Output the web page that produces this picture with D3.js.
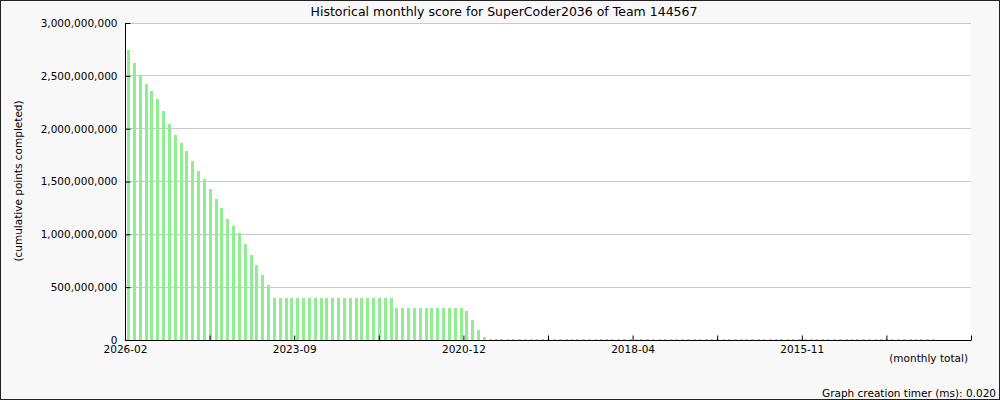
<!DOCTYPE html>
<html>
<head>
<meta charset="utf-8">
<script src="https://cdn.jsdelivr.net/npm/d3@7"></script>
<style>
  body { margin: 0; background: #fff; }
  text { font-family: "DejaVu Sans", sans-serif; }
</style>
</head>
<body>
<div id="chart"></div>
<script>
"use strict";
(function(){
  // monthly cumulative score, newest month first (millions of points)
  const scores = [
    2745, 2626, 2512, 2427, 2360, 2281, 2170, 2047, 1942, 1866,
    1791, 1696, 1601, 1525, 1430, 1335, 1249, 1145, 1079, 1012,
    908, 803, 708, 613, 518,
    400, 400, 400, 400, 400, 400, 400, 400, 400, 400,
    400, 400, 400, 400, 400, 400, 400, 400, 400, 400, 400,
    305, 305, 305, 305, 305, 305, 305, 305, 305, 305, 305, 305,
    275, 193, 97, 30,
    1, 1, 1, 1, 1, 1, 1, 1, 1, 1, 1, 1, 1, 1, 1, 1, 1, 1, 1, 1,
    1, 1, 1, 1, 1, 1, 1, 1, 1, 1, 1, 1, 1, 1, 1, 1, 1, 1, 1, 1,
    1, 1, 1, 1, 1, 1, 1, 1, 1, 1, 1, 1, 1, 1, 1, 1, 1, 1, 1, 1,
    1, 1, 1, 1, 1, 1, 1, 1, 1, 1, 1, 1, 1, 1, 1, 1, 1
  ]
  const slots = 145
  const xTickLabels = ['2026-02', '', '2023-09', '', '2020-12', '', '2018-04', '', '2015-11', '', '']
  const yTicks = [0, 500, 1000, 1500, 2000, 2500, 3000]

  const m = { width: 1000, height: 400, left: 125, right: 971, top: 23, bottom: 340 }

  const svg = d3.select('#chart').append('svg')
      .attr('width', m.width)
      .attr('height', m.height)

  // page background + border
  svg.append('rect')
      .attr('x', 0.5).attr('y', 0.5)
      .attr('width', m.width - 1).attr('height', m.height - 1)
      .attr('fill', '#f8f8f8')
      .attr('stroke', '#222')

  // plot area
  svg.append('rect')
      .attr('x', m.left).attr('y', m.top)
      .attr('width', m.right - m.left).attr('height', m.bottom - m.top)
      .attr('fill', '#fff')

  const x = d3.scaleLinear().domain([0, slots]).range([m.left, m.right])
  const y = d3.scaleLinear().domain([0, 3000]).range([m.bottom, m.top])

  // gridlines
  svg.append('g')
    .selectAll('line')
    .data(yTicks.filter(d => d > 0))
    .enter()
    .append('line')
      .attr('x1', m.left).attr('x2', m.right)
      .attr('y1', d => Math.floor(y(d)) + 0.5)
      .attr('y2', d => Math.floor(y(d)) + 0.5)
      .attr('stroke', '#c8c8c8')

  // bars
  svg.append('g')
    .selectAll('rect')
    .data(scores)
    .enter()
    .append('rect')
      .attr('x', (d, i) => Math.round(x(i) + 2))
      .attr('width', 3)
      .attr('y', d => Math.round(Math.min(y(d), m.bottom - 1)))
      .attr('height', d => m.bottom - Math.round(Math.min(y(d), m.bottom - 1)))
      .attr('fill', '#90ee90')
      .attr('shape-rendering', 'crispEdges')

  // y axis
  const yAxis = d3.axisLeft(y)
      .tickValues(yTicks)
      .tickSize(-5)
      .tickPadding(8)
      .tickFormat(d => d3.format(',')(d * 1e6))
  const gy = svg.append('g')
      .attr('transform', 'translate(' + (m.left + 0.5) + ',0)')
      .call(yAxis)
  gy.select('.domain').attr('d', 'M0,' + m.top + 'V' + (m.bottom + 1)).attr('stroke', '#000')
  gy.selectAll('.tick line').attr('stroke', '#000')
  gy.selectAll('text').attr('font-size', '10.5px').attr('fill', '#000')
    .attr('font-family', '"DejaVu Sans", sans-serif')

  // x axis
  const xAxis = d3.axisBottom(x)
      .tickValues(d3.range(0, 11).map(k => k * slots / 10))
      .tickSize(-5)
      .tickPadding(5)
      .tickFormat((d, i) => xTickLabels[i])
  const gx = svg.append('g')
      .attr('transform', 'translate(0,' + (m.bottom + 0.5) + ')')
      .call(xAxis)
  gx.select('.domain').attr('d', 'M' + m.left + ',0H' + m.right).attr('stroke', '#000')
  gx.selectAll('.tick line').attr('stroke', '#000')
  gx.selectAll('text').attr('font-size', '10.5px').attr('fill', '#000')
    .attr('font-family', '"DejaVu Sans", sans-serif')

  // titles
  svg.append('text')
      .attr('x', 504).attr('y', 16)
      .attr('text-anchor', 'middle')
      .attr('font-size', '12.5px')
      .text('Historical monthly score for SuperCoder2036 of Team 144567')
  svg.append('text')
      .attr('transform', 'translate(22,181)rotate(-90)')
      .attr('text-anchor', 'middle')
      .attr('font-size', '10.5px')
      .text('(cumulative points completed)')
  svg.append('text')
      .attr('x', 968).attr('y', 362)
      .attr('text-anchor', 'end')
      .attr('font-size', '10.5px')
      .text('(monthly total)')
  svg.append('text')
      .attr('x', 996).attr('y', 397)
      .attr('text-anchor', 'end')
      .attr('font-size', '10.5px')
      .text('Graph creation timer (ms): 0.020')
})();
</script>
</body>
</html>
